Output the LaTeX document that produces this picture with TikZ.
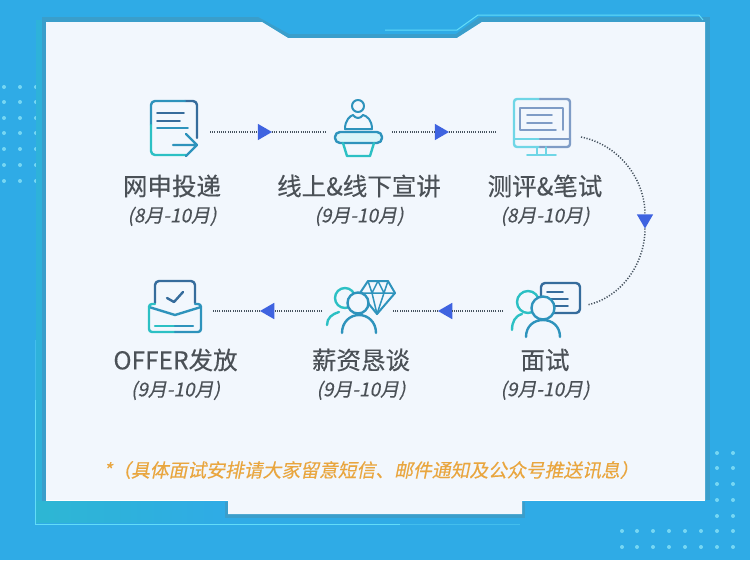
\documentclass[tikz,border=0pt]{standalone}
\usepackage{fontspec}
\usepackage{xcolor}
\usetikzlibrary{positioning}
\usetikzlibrary{shapes.geometric}
\newfontfamily\cjkfont[FakeBold=0.35]{Noto Sans CJK SC}
\newfontfamily\cjkslant[FakeSlant=0.2,FakeBold=0.25]{Noto Sans CJK SC}
\definecolor{bgblue}{HTML}{2FABE6}
\definecolor{panelwhite}{HTML}{F2F7FD}
\definecolor{edgeblue}{HTML}{3A9ECB}
\definecolor{glowblue}{HTML}{62DCF8}
\definecolor{dotblue}{HTML}{8FE6F8}
\definecolor{textgrey}{HTML}{4B5157}
\definecolor{noteorange}{HTML}{E9A63F}
\definecolor{headblue}{HTML}{3F63E0}
\definecolor{flowgrey}{HTML}{46535F}
\definecolor{iconteal}{HTML}{2CC0C4}
\definecolor{iconmid}{HTML}{2E93BC}
\definecolor{icondark}{HTML}{366C9C}
\definecolor{iconpale}{HTML}{6FD6E6}
\definecolor{iconlilac}{HTML}{7F9CC6}
\begin{document}
\begin{tikzpicture}[
      x=1pt, y=-1pt,
      type-box/.style={inner sep=0pt, outer sep=0pt, minimum height=50pt},
      type-title/.style={inner sep=0pt, text=textgrey, font=\cjkfont\fontsize{24.5}{28}\selectfont},
      type-date/.style={inner sep=0pt, text=textgrey, font=\cjkslant\fontsize{19}{22}\selectfont},
      type-tip/.style={regular polygon, regular polygon sides=3, fill=headblue, inner sep=0pt, outer sep=0pt, minimum size=19pt},
      type-flow/.style={draw=flowgrey, line width=1.1pt, dash pattern=on 1pt off 1.2pt},
      type-bend/.style={type-flow, line width=1.5pt, dash pattern=on 1.2pt off 1.6pt},
      type-icon/.style={line width=2.4pt, line cap=round, line join=round},
      type-dot/.style={fill=dotblue, opacity=.75}
    ]
      \useasboundingbox (0,0) rectangle (750,560);
      \fill[bgblue] (0,0) rectangle (750,560);
      % dots
      \foreach \x in {4,20,36} \foreach \y in {87,102,118,133,149,165,181}
        \fill[type-dot] (\x,\y) circle (2pt);
      \foreach \x in {717,733} \foreach \y in {453,468,484,500,516}
        \fill[type-dot] (\x,\y) circle (2pt);
      \foreach \x in {622,637,653,669,685,701,717,733} \foreach \y in {531,547}
        \fill[type-dot] (\x,\y) circle (2pt);
      % frame
      \shade[left color=iconteal!55!bgblue, right color=bgblue] (36,500) rectangle (228,522);
      \fill[iconteal!35!bgblue] (36,20) rectangle (42,501);
      \fill[edgeblue] (42,17) rectangle (46,501);
      \fill[edgeblue] (705,17) rectangle (710,500);
      \fill[edgeblue] (225,502) rectangle (525,518);
      \fill[edgeblue] (42,17) -- (258,17) -- (289,34) -- (456,34) -- (480,17) -- (705,17) -- (705,22) -- (482,22) -- (457,38) -- (288,38) -- (262,22) -- (42,22) -- cycle;
      \fill[panelwhite] (46,22) -- (262,22) -- (288,38) -- (457,38) -- (482,22) -- (705,22)
        -- (705,500) -- (522,500) -- (522,514) -- (228,514) -- (228,500) -- (46,500) -- cycle;
      \draw[white, line width=1pt] (46,500) -- (228,500);
      \draw[white, line width=1pt] (522,500) -- (705,500);
      \draw[glowblue, line width=1pt] (385,30) -- (457,30) -- (478,15) -- (699,15) -- (703,20);
      \draw[glowblue, line width=1pt] (35,400) -- (35,524) -- (400,524);
      \draw[glowblue!40!bgblue, line width=1pt] (35,340) -- (35,400);
      \draw[glowblue!40!bgblue, line width=1pt] (400,524) -- (520,524);

      % steps
      \node[type-box, minimum width=76pt] (step-apply) at (172,132) {};
      \node[type-box, minimum width=67pt] (step-talk) at (358.5,132) {};
      \node[type-box, minimum width=88pt] (step-test) at (541,132) {};
      \node[type-box, minimum width=84pt] (step-meet) at (545,311) {};
      \node[type-box, minimum width=71pt] (step-pay) at (357.5,311) {};
      \node[type-box, minimum width=76pt] (step-offer) at (174,311) {};

      \node[type-title] (title-apply) at (172,186) {网申投递};
      \node[type-title] (title-talk) at (359,186) {线上\&线下宣讲};
      \node[type-title] (title-test) at (545,186) {测评\&笔试};
      \node[type-title] (title-meet) at (545,360) {面试};
      \node[type-title] (title-pay) at (361,360) {薪资恳谈};
      \node[type-title] (title-offer) at (175.5,360) {OFFER发放};
      \node[type-date, below=9pt of title-apply] (date-apply) {(8月-10月)};
      \node[type-date, below=9pt of title-talk] (date-talk) {(9月-10月)};
      \node[type-date, below=9pt of title-test] (date-test) {(8月-10月)};
      \node[type-date, below=9pt of title-meet] (date-meet) {(9月-10月)};
      \node[type-date, below=9pt of title-pay] (date-pay) {(9月-10月)};
      \node[type-date, below=9pt of title-offer] (date-offer) {(9月-10月)};
      \node[inner sep=0pt, text=noteorange, font=\cjkslant\fontsize{18.8}{22}\selectfont] (note) at (371,470) {*（具体面试安排请大家留意短信、邮件通知及公众号推送讯息）};

      % flow
      \node[type-tip, shape border rotate=-90] (tip-a) at (262.5,132) {};
      \node[type-tip, shape border rotate=-90] (tip-b) at (439.5,132) {};
      \node[type-tip, shape border rotate=180] (tip-c) at (645,219) {};
      \node[type-tip, shape border rotate=90] (tip-d) at (447.5,311) {};
      \node[type-tip, shape border rotate=90] (tip-e) at (269.5,311) {};
      \coordinate (bend-in) at (581,137);
      \coordinate (bend-out) at (587,305);
      \draw[type-flow] (step-apply) -- (tip-a) -- (step-talk);
      \draw[type-flow] (step-talk) -- (tip-b) -- (step-test);
      \draw[type-bend] (bend-in) .. controls (620,145) and (645,180) .. (tip-c);
      \draw[type-bend] (tip-c) .. controls (645,265) and (620,298) .. (bend-out);
      \draw[type-flow] (step-meet) -- (tip-d) -- (step-pay);
      \draw[type-flow] (step-pay) -- (tip-e) -- (step-offer);

      % document
      \begin{scope}[type-icon]
        \draw[icondark] (185,101) -- (193,101) to[out=0,in=90] (197,105) -- (197,138);
        \draw[iconmid] (185,101) -- (155,101) to[out=180,in=90] (151,105) -- (151,125);
        \draw[iconteal] (151,125) -- (151,151) to[out=270,in=180] (155,155) -- (186,155);
        \draw[icondark, line width=1.8pt] (157,113) -- (184,113) (157,121) -- (180,121);
        \draw[iconmid, line width=1.8pt] (157,128) -- (188,128);
        \draw[iconmid] (173,145) -- (197,145) (186,134) -- (197,145) -- (186,156);
      \end{scope}
      % speaker
      \begin{scope}[type-icon]
        \draw[iconmid, line width=2pt] (358,106) circle (6pt);
        \draw[iconmid, line width=2pt] (345,129) .. controls (345,120) and (350,116) .. (353,115) .. controls (356,119) and (360,119) .. (363,115) .. controls (367,116) and (372,120) .. (372,129) -- cycle;
        \draw[iconmid, rounded corners=5pt, fill=iconpale!25] (335,132) rectangle (382,143);
        \draw[iconteal] (343,143) -- (347,156) -- (370,156) -- (374,143);
      \end{scope}
      % monitor
      \begin{scope}[type-icon]
        \draw[iconpale, rounded corners=3pt] (540,99) -- (514,99) -- (514,147) -- (540,147);
        \draw[iconlilac, rounded corners=3pt] (540,99) -- (570,99) -- (570,147) -- (540,147);
        \draw[iconpale] (514,139) -- (540,139);
        \draw[iconlilac] (540,139) -- (570,139);
        \draw[iconlilac, line width=1.8pt] (556,130) -- (520,130) -- (520,108) -- (563,108) -- (563,130);
        \draw[iconlilac, line width=1.6pt] (527,115) -- (552,115) (527,123) -- (552,123);
        \draw[iconpale, line width=1.8pt] (537,147) -- (537,155) (546,147) -- (546,155) (527,155) -- (556,155);
      \end{scope}
      % interview
      \begin{scope}[type-icon]
        \draw[icondark, rounded corners=4pt] (541,283) rectangle (580,313);
        \draw[icondark, line width=1.7pt] (547,292) -- (563,292) (550,299) -- (568,299) (555,306) -- (568,306);
        \fill[panelwhite] (528,302) circle (11pt);
        \draw[iconteal] (528,302) circle (11pt);
        \draw[iconteal] (512,330) .. controls (512,322) and (515,316) .. (522,314);
        \draw[iconmid, fill=panelwhite] (543,308) circle (11.5pt);
        \draw[iconmid] (526,337) .. controls (526,326) and (534,320) .. (543,320) .. controls (552,320) and (560,326) .. (560,337);
      \end{scope}
      % gem and people
      \begin{scope}[type-icon]
        \draw[iconmid, line width=2pt] (368,281) -- (388,281) -- (395,293) -- (377,314) -- (360,293) -- cycle;
        \draw[iconmid, line width=1.5pt] (360,293) -- (395,293) (372,293) -- (377,314) -- (384,293) (368,281) -- (372,293) -- (378,281) -- (384,293) -- (388,281);
        \fill[panelwhite] (345,298) circle (10pt);
        \draw[iconteal] (345,298) circle (10pt);
        \draw[iconteal] (327,325) .. controls (327,318) and (332,314) .. (339,312);
        \draw[iconmid, fill=panelwhite] (358,303) circle (10.5pt);
        \draw[iconmid] (342,333) .. controls (342,322) and (350,315) .. (359,315) .. controls (368,315) and (376,322) .. (376,333);
      \end{scope}
      % envelope
      \begin{scope}[type-icon]
        \draw[icondark, rounded corners=4pt] (155,303) -- (155,281) -- (195,281) -- (195,303);
        \draw[icondark] (167,298) -- (174,302) -- (183,292);
        \draw[iconmid] (149,307) -- (175,315) -- (201,307);
        \draw[iconteal, rounded corners=3pt] (155,304) -- (149,304) -- (149,332) -- (175,332);
        \draw[iconmid, rounded corners=3pt] (175,332) -- (201,332) -- (201,304) -- (195,304);
        \draw[iconteal] (155,326) -- (175,326);
        \draw[iconmid] (175,326) -- (193,326);
      \end{scope}
    \end{tikzpicture}
\end{document}
